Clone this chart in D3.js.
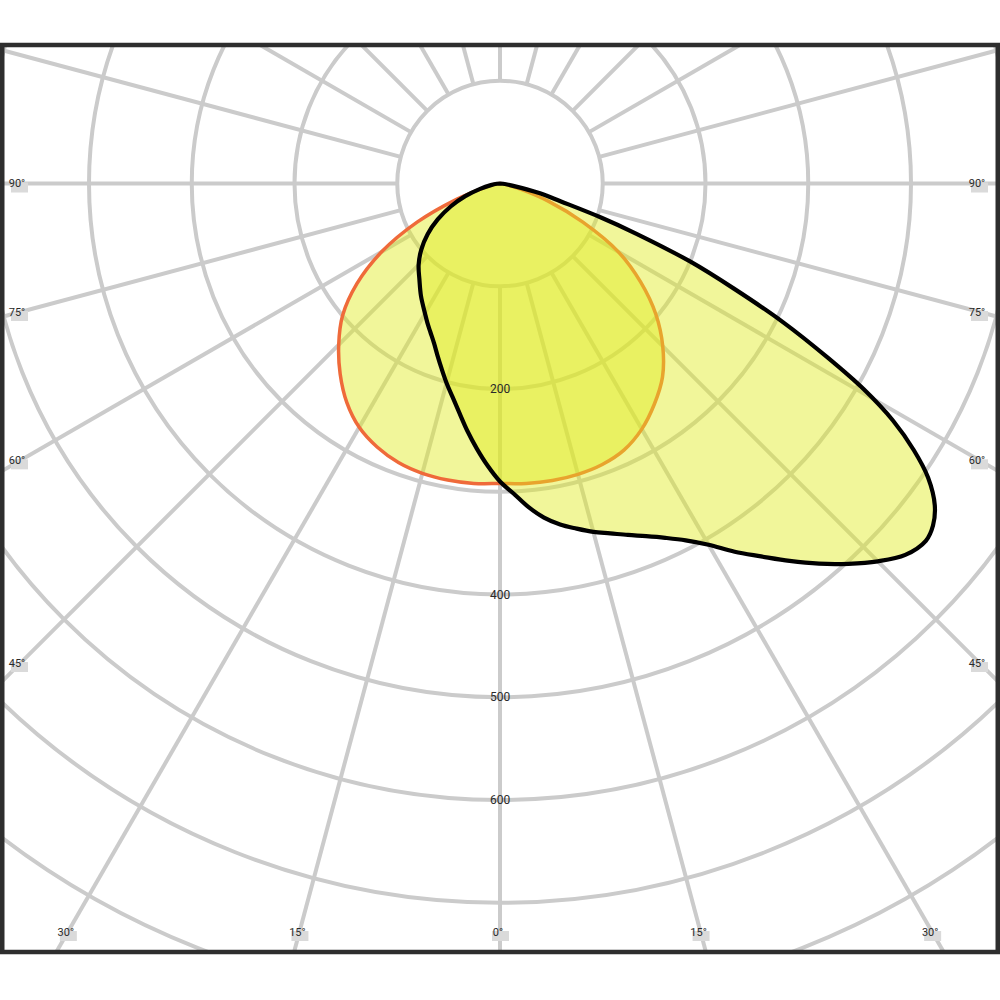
<!DOCTYPE html>
<html>
<head>
<meta charset="utf-8">
<script src="https://cdn.jsdelivr.net/npm/d3@7"></script>
<style>
  body { margin: 0; background: #ffffff; }
  svg { display: block; }
  text { font-family: Roboto, "Noto Sans", "DejaVu Sans", sans-serif; }
</style>
</head>
<body>
<svg id="chart" width="1000" height="1000"></svg>
<script>
// ---------------- data ----------------
const ringValues = [100, 200, 300, 400, 500, 600, 700, 800, 900];
const ringLabels = [200, 400, 500, 600];
const gridAngles = [0, 15, 30, 45, 60, 75, 90, 105, 120, 135, 150, 165, 180, 195, 210, 225, 240, 255, 270, 285, 300, 315, 330, 345];
const sideLabelAngles = [90, 75, 60, 45];
const sideLabelText = ["90°", "75°", "60°", "45°"];
const bottomLabelAngles = [-30, -15, 0, 15, 30];
const bottomLabelText = ["30°", "15°", "0°", "15°", "30°"];

// C0 - C180 plane (orange curve); angle from nadir, negative = left
const anglesC0C180 = [-90, -85, -80, -75, -70, -65, -60, -55, -50, -45, -40, -35, -30, -25, -20, -15, -10, -5,
                      0, 5, 10, 15, 20, 25, 30, 35, 40, 45, 50, 55, 60, 65, 70, 75, 80, 85, 90];
const valuesC0C180 = [0, 2, 6, 17, 45, 89, 133, 170, 200, 222, 242, 260, 274, 283, 289, 292, 293, 293,
                      292, 293, 293.5, 293, 291, 286, 276, 262, 246, 224, 198, 167, 133, 89, 50, 20, 6, 2, 0];

// C90 - C270 plane (black curve)
const anglesC90C270 = [-90, -85, -80, -75, -70, -65, -60, -55, -50, -45, -40, -35, -30, -27.5, -25, -22.5, -20, -17.5,
                       -15, -12.5, -10, -7.5, -5, -2.5, 0, 2.5, 5, 7.5, 10, 12.5, 15, 17.5, 20, 22.5, 25, 27.5,
                       30, 32.5, 35, 37.5, 40, 42.5, 45, 47.5, 50, 51.7, 53.5, 55.5, 57.2, 58.9, 60.5, 62, 63.9,
                       65.8, 67.7, 69.8, 71.4, 73.6, 76.2, 80, 85, 90];
const valuesC90C270 = [0, 3, 9, 20, 36, 53, 70, 86, 100, 112, 122, 134, 146, 153, 160, 168, 178, 189,
                       201, 213, 227, 243, 259, 275, 290, 302, 316, 328, 337, 344, 351, 357, 364, 371.5, 380.5, 391.5,
                       406, 425, 443, 463, 483, 502, 520, 535, 541, 537, 526.4, 505.6, 479.2, 446.6, 406.8, 361.6, 306.6,
                       249.6, 199.9, 141, 103.7, 61.9, 40.1, 12, 3, 0];

// ---------------- layout ----------------
const W = 1000, H = 1000;
const cx = 500, cy = 183.5;
const frame = {x: 2.25, y: 45, w: 995.5, h: 907};
const r = d3.scaleLinear().domain([0, 100]).range([0, 102.75]);

const svg = d3.select("#chart");
svg.append("rect").attr("width", W).attr("height", H).attr("fill", "#ffffff");

const defs = svg.append("defs");
defs.append("clipPath").attr("id", "clip")
  .append("rect").attr("x", frame.x).attr("y", frame.y).attr("width", frame.w).attr("height", frame.h);

const plot = svg.append("g").attr("clip-path", "url(#clip)");
const g = plot.append("g").attr("transform", `translate(${cx},${cy})`);

const gridColor = "#cbcbcb";

// rings
g.selectAll("circle.ring").data(ringValues).join("circle")
  .attr("class", "ring")
  .attr("r", d => r(d))
  .attr("fill", "none")
  .attr("stroke", gridColor)
  .attr("stroke-width", 4);

// radial lines (start at first ring)
const rad = a => a * Math.PI / 180;
g.selectAll("line.spoke").data(gridAngles).join("line")
  .attr("class", "spoke")
  .attr("x1", d => r(ringValues[0]) * Math.sin(rad(d)))
  .attr("y1", d => r(ringValues[0]) * Math.cos(rad(d)))
  .attr("x2", d => r(1200) * Math.sin(rad(d)))
  .attr("y2", d => r(1200) * Math.cos(rad(d)))
  .attr("stroke", gridColor)
  .attr("stroke-width", 4);

// curves
const fillColor = "rgb(225,235,30)";
const fillOpacity = 0.45;

function curvePath(angles, values) {
  const pts = angles.map((a, i) => [Math.PI - rad(a), r(values[i])]);
  const line = d3.lineRadial().angle(d => d[0]).radius(d => d[1])
    .curve(d3.curveCatmullRom.alpha(0.5));
  return line(pts) + "Z";
}

g.append("path")
  .attr("d", curvePath(anglesC0C180, valuesC0C180))
  .attr("fill", fillColor).attr("fill-opacity", fillOpacity)
  .attr("stroke", "#ef6a3a").attr("stroke-width", 3.5)
  .attr("stroke-linejoin", "round");

g.append("path")
  .attr("d", curvePath(anglesC90C270, valuesC90C270))
  .attr("fill", fillColor).attr("fill-opacity", fillOpacity)
  .attr("stroke", "#000000").attr("stroke-width", 4.2)
  .attr("stroke-linejoin", "round");

// ring labels
g.selectAll("text.ringlab").data(ringLabels).join("text")
  .attr("class", "ringlab")
  .attr("x", 0)
  .attr("y", d => r(d))
  .attr("dy", "0.35em")
  .attr("text-anchor", "middle")
  .attr("font-size", 12)
  .attr("fill", "#2a2a2a")
  .text(d => d);

// angle labels
const labelG = plot.append("g");
const sideDx = 479.5;
const labelData = [];
sideLabelAngles.forEach((a, i) => {
  const yy = a === 90 ? cy : cy + sideDx / Math.tan(rad(a));
  labelData.push({x: 17, y: yy, t: sideLabelText[i]});
  labelData.push({x: 977, y: yy, t: sideLabelText[i]});
});
const bottomY = 932;
bottomLabelAngles.forEach((a, i) => {
  const x = cx + (bottomY - cy) * Math.tan(rad(a)) - 2;
  labelData.push({x: x, y: bottomY, t: bottomLabelText[i]});
});

labelG.selectAll("rect").data(labelData).join("rect")
  .attr("x", d => d.x - 6)
  .attr("y", d => d.y - 1)
  .attr("width", 17)
  .attr("height", 10)
  .attr("fill", "#dadada");

labelG.selectAll("text").data(labelData).join("text")
  .attr("x", d => d.x)
  .attr("y", d => d.y)
  .attr("dy", "0.35em")
  .attr("text-anchor", "middle")
  .attr("font-size", 11)
  .attr("fill", "#2a2a2a")
  .text(d => d.t);

// frame
svg.append("rect")
  .attr("x", frame.x).attr("y", frame.y)
  .attr("width", frame.w).attr("height", frame.h)
  .attr("fill", "none")
  .attr("stroke", "#2e2e2e")
  .attr("stroke-width", 4.5);
</script>
</body>
</html>
